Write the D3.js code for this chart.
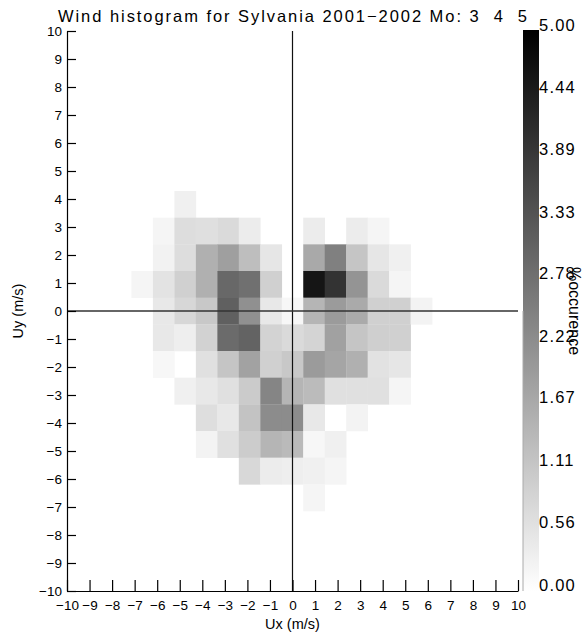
<!DOCTYPE html>
<html>
<head>
<meta charset="utf-8">
<script src="https://cdn.jsdelivr.net/npm/d3@7"></script>
<style>
  html, body { margin: 0; padding: 0; background: #fff; }
  svg { display: block; }
  text { font-family: "Liberation Sans", Arial, sans-serif; fill: #000; }
</style>
</head>
<body>
<svg id="chart" width="583" height="634"></svg>
<script>
// ---- data ----
const titleText = "Wind histogram for Sylvania 2001\u22122002 Mo: 3  4  5";
const allBins = [-10,-9,-8,-7,-6,-5,-4,-3,-2,-1,0,1,2,3,4,5,6,7,8,9,10];
const axisTicks = [-10,-9,-8,-7,-6,-5,-4,-3,-2,-1,0,1,2,3,4,5,6,7,8,9,10];
const uxBins = [-7,-6,-5,-4,-3,-2,-1,0,1,2,3,4,5,6];
const uyBins = [4,3,2,1,0,-1,-2,-3,-4,-5,-6,-7];
// % occurrence, one row per uy bin (top to bottom), one column per ux bin
const occurrence = [
  [0,    0,    0.29, 0,    0,    0,    0,    0,    0,    0,    0,    0,    0,    0   ],
  [0,    0.20, 0.67, 0.63, 0.73, 0.38, 0,    0,    0.38, 0,    0.37, 0.20, 0,    0   ],
  [0,    0.25, 0.67, 1.55, 1.88, 1.27, 0.49, 0,    1.69, 2.49, 1.14, 0.49, 0.29, 0   ],
  [0.20, 0.55, 0.92, 1.55, 2.96, 2.80, 0.92, 0,    4.59, 4.00, 2.10, 0.73, 0.20, 0   ],
  [0,    0.45, 0.78, 1.08, 3.12, 2.18, 0.45, 0.15, 1.45, 1.96, 1.67, 0.92, 0.92, 0.24],
  [0,    0.45, 0.33, 0.88, 2.90, 3.06, 0.86, 0.73, 0.85, 1.85, 1.14, 0.94, 0.92, 0   ],
  [0,    0.15, 0,    0.60, 1.14, 1.82, 0.92, 1.08, 1.96, 1.76, 1.55, 0.57, 0.49, 0   ],
  [0,    0,    0.29, 0.45, 0.60, 1.02, 2.39, 1.45, 1.33, 0.60, 0.60, 0.60, 0.20, 0   ],
  [0,    0,    0,    0.65, 0.45, 1.18, 2.25, 2.25, 0.45, 0,    0.24, 0,    0,    0   ],
  [0,    0,    0,    0.24, 0.60, 1.00, 1.45, 1.35, 0.15, 0.29, 0,    0,    0,    0   ],
  [0,    0,    0,    0,    0,    0.76, 0.38, 0.33, 0.29, 0.20, 0,    0,    0,    0   ],
  [0,    0,    0,    0,    0,    0,    0,    0,    0.20, 0,    0,    0,    0,    0   ]
];
const colorbarTicks = [0, 0.56, 1.11, 1.67, 2.22, 2.78, 3.33, 3.89, 4.44, 5.00];
const colorMax = 5;

// ---- layout ----
const L = 67, R = 518, T = 31, B = 591;
const svg = d3.select("#chart");

const x = d3.scaleLinear().domain([-10, 10]).range([L, R]);
const y = d3.scaleLinear().domain([-10, 10]).range([B, T]);
const xBand = d3.scaleBand().domain(allBins).range([L, R]).padding(0);
const yBand = d3.scaleBand().domain(allBins.slice().reverse()).range([T, B]).padding(0);
const color = d3.scaleLinear().domain([0, colorMax]).range(["#ffffff", "#000000"]).clamp(true);

// ---- cells ----
const cells = [];
uyBins.forEach((uy, r) => uxBins.forEach((ux, c) => {
  const v = occurrence[r][c];
  if (v > 0) cells.push({ux, uy, v});
}));
svg.append("g").selectAll("rect").data(cells).join("rect")
  .attr("x", d => xBand(d.ux))
  .attr("y", d => yBand(d.uy))
  .attr("width", xBand.bandwidth() + 0.3)
  .attr("height", yBand.bandwidth() + 0.3)
  .attr("fill", d => color(d.v));

// ---- zero lines ----
svg.append("line").attr("x1", x(0)).attr("x2", x(0)).attr("y1", T).attr("y2", B)
  .attr("stroke", "#111").attr("stroke-width", 1.2);
svg.append("line").attr("x1", L).attr("x2", R).attr("y1", y(0)).attr("y2", y(0))
  .attr("stroke", "#333").attr("stroke-width", 1.6);

// ---- axes ----
const fmt = d => d3.format("d")(d);
const xAxis = d3.axisBottom(x).tickValues(axisTicks).tickFormat(fmt)
  .tickSize(-11).tickSizeOuter(0).tickPadding(9);
const yAxis = d3.axisLeft(y).tickValues(axisTicks).tickFormat(fmt)
  .tickSize(-9).tickSizeOuter(0).tickPadding(5);

const gx = svg.append("g").attr("transform", `translate(0,${B})`).call(xAxis);
const gy = svg.append("g").attr("transform", `translate(${L},0)`).call(yAxis);
[gx, gy].forEach(g => {
  g.select(".domain").attr("stroke", "#000").attr("stroke-width", 1.2);
  g.selectAll(".tick line").attr("stroke", "#000").attr("stroke-width", 1.2);
  g.selectAll(".tick text").attr("font-family", "Liberation Sans, Arial, sans-serif")
    .attr("font-size", 13.5).attr("fill", "#000");
});

// axis titles
svg.append("text").attr("x", x(0)).attr("y", 629).attr("text-anchor", "middle")
  .attr("font-size", 14.5).text("Ux (m/s)");
svg.append("text").attr("transform", `translate(23,${y(0)}) rotate(-90)`)
  .attr("text-anchor", "middle").attr("font-size", 14.5).text("Uy (m/s)");

// title
svg.append("text").attr("x", (L + R) / 2).attr("y", 22).attr("text-anchor", "middle")
  .attr("font-size", 16.5).style("white-space", "pre")
  .attr("textLength", 469).attr("lengthAdjust", "spacing")
  .text(titleText);

// ---- colorbar ----
const cb = d3.scaleLinear().domain([0, colorMax]).range([B, T]);
const defs = svg.append("defs");
const grad = defs.append("linearGradient").attr("id", "cbgrad")
  .attr("x1", 0).attr("y1", 1).attr("x2", 0).attr("y2", 0);
grad.append("stop").attr("offset", 0).attr("stop-color", color(0));
grad.append("stop").attr("offset", 1).attr("stop-color", color(colorMax));
svg.append("rect").attr("x", 523).attr("y", cb(colorMax) - 1)
  .attr("width", 16).attr("height", cb(0) - cb(colorMax) + 1)
  .attr("fill", "url(#cbgrad)");
svg.append("line").attr("x1", 523).attr("x2", 523).attr("y1", cb(2.5)).attr("y2", cb(0))
  .attr("stroke", "#aaa").attr("stroke-width", 1);

svg.append("g").selectAll("text").data(colorbarTicks).join("text")
  .attr("x", 539).attr("y", d => cb(d) - 0.5)
  .attr("font-size", 16.5).attr("letter-spacing", 1.2)
  .text(d => d.toFixed(2));

svg.append("text").attr("transform", `translate(569,${y(0)}) rotate(90)`)
  .attr("text-anchor", "middle").attr("font-size", 16)
  .text("%occurence");
</script>
</body>
</html>
